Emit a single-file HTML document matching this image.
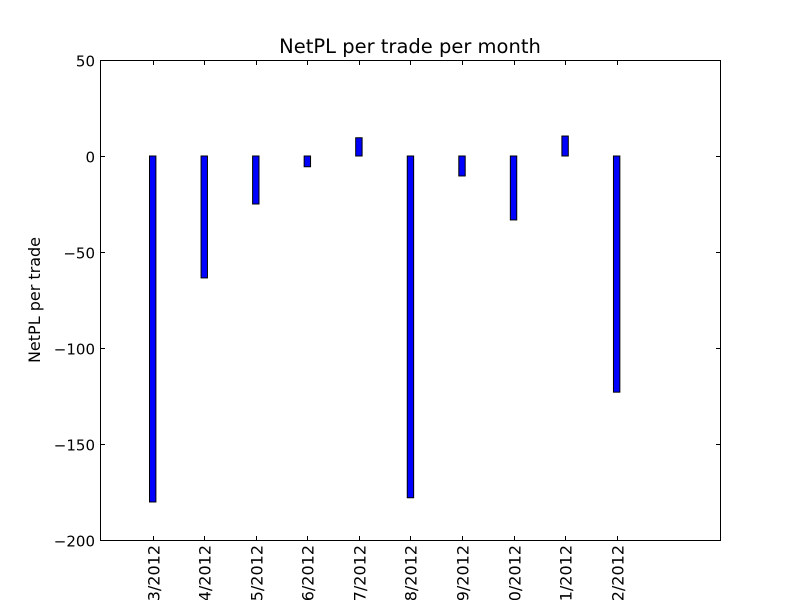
<!DOCTYPE html>
<html><head><meta charset="utf-8"><style>
body{margin:0;background:#fff;overflow:hidden}
svg{display:block;font-family:"DejaVu Sans","Liberation Sans",sans-serif}
</style></head><body>
<svg id="chart" width="800" height="600">
<rect x="0" y="0" width="800" height="600" fill="#fff"/>
<g id="bars"></g>
<rect x="100.5" y="60.5" width="620" height="480" fill="none" stroke="#000" stroke-width="1"/>
<g id="yaxis"></g>
<g id="xaxis"></g>
<text x="410" y="53" text-anchor="middle" font-size="19.5">NetPL per trade per month</text>
<text transform="translate(40,300) rotate(-90)" text-anchor="middle" font-size="16">NetPL per trade</text>
</svg>
<script>
const categories=["03/2012","04/2012","05/2012","06/2012","07/2012","08/2012","09/2012","10/2012","11/2012","12/2012"];
const values=[-180.2,-63.5,-25,-5.6,9.5,-178,-10.4,-33.3,10.4,-123];
const yTicks=[50,0,-50,-100,-150,-200];
const yTickLabels=["50","0","\u221250","\u2212100","\u2212150","\u2212200"];
const NS="http://www.w3.org/2000/svg";
const y=v=>60+(50-v)*480/250;
const x=i=>152.7+i*51.55;
function mk(t,a){const e=document.createElementNS(NS,t);for(const k in a)e.setAttribute(k,a[k]);return e;}
const bars=document.getElementById('bars');
values.forEach((v,i)=>{
  const top=Math.min(y(v),y(0)),h=Math.abs(y(v)-y(0));
  const r=mk('rect',{x:x(i)-3.2,y:top,width:6.4,height:h,fill:'#0000ff',stroke:'#000','stroke-width':1});
  
  
  bars.appendChild(r);
});
const ya=document.getElementById('yaxis');
yTicks.forEach((t,i)=>{
  const yy=Math.round(y(t))+0.5;
  ya.appendChild(mk('line',{x1:100.5,x2:105,y1:yy,y2:yy,stroke:'#000'}));
  ya.appendChild(mk('line',{x1:716,x2:720.5,y1:yy,y2:yy,stroke:'#000'}));
  const tx=mk('text',{x:95,y:yy+6,'text-anchor':'end','font-size':15});
  tx.textContent=yTickLabels[i];
  
  
  ya.appendChild(tx);
});
const xa=document.getElementById('xaxis');
categories.forEach((c,i)=>{
  const xx=Math.round(x(i))+0.5;
  xa.appendChild(mk('line',{x1:xx,x2:xx,y1:540.5,y2:536,stroke:'#000'}));
  xa.appendChild(mk('line',{x1:xx,x2:xx,y1:60.5,y2:65,stroke:'#000'}));
  const tx=mk('text',{transform:`translate(${xx+6},545) rotate(-90)`,'text-anchor':'end','font-size':16});
  tx.textContent=c;
  
  
  xa.appendChild(tx);
});
</script>
</body></html>
